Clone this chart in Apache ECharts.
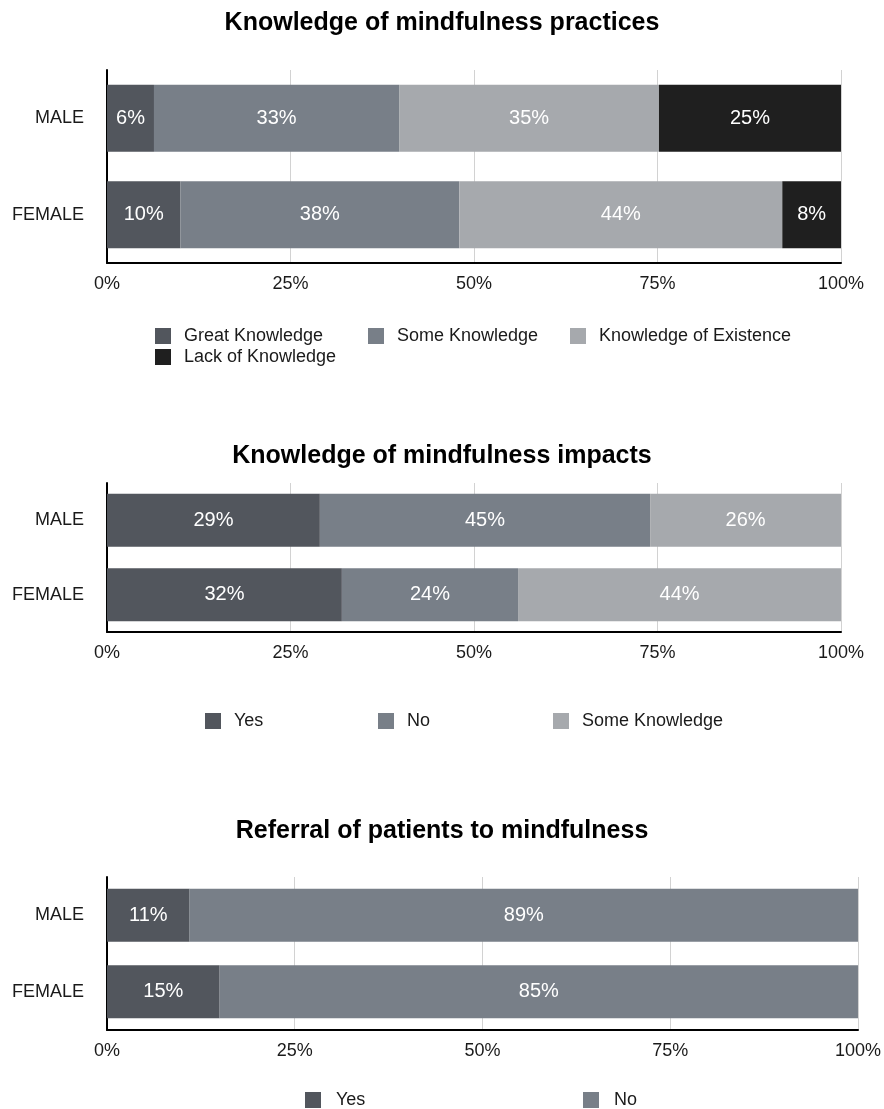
<!DOCTYPE html>
<html>
<head>
<meta charset="utf-8">
<script src="https://cdn.jsdelivr.net/npm/echarts@6/dist/echarts.min.js"></script>
<style>
  html, body { margin: 0; padding: 0; background: #fff; }
  .panel { position: absolute; left: 0; width: 884px; }
</style>
</head>
<body>
<div id="practices" class="panel" style="top:0;height:400px"></div>
<div id="impacts" class="panel" style="top:420px;height:340px"></div>
<div id="referral" class="panel" style="top:790px;height:319px"></div>
<script>
// Respondent groups (top to bottom)
const genders = ['MALE', 'FEMALE'];

// Knowledge of mindfulness practices, % of respondents [MALE, FEMALE]
const practiceNames = ['Great Knowledge', 'Some Knowledge', 'Knowledge of Existence', 'Lack of Knowledge'];
const practiceGreat = [6.4, 10];
const practiceSome = [33.4, 38];
const practiceExistence = [35.4, 44];
const practiceLack = [24.8, 8];

// Knowledge of mindfulness impacts, % of respondents [MALE, FEMALE]
const impactNames = ['Yes', 'No', 'Some Knowledge'];
const impactYes = [29, 32];
const impactNo = [45, 24];
const impactSome = [26, 44];

// Referral of patients to mindfulness, % of respondents [MALE, FEMALE]
const referralNames = ['Yes', 'No'];
const referralYes = [11, 15];
const referralNo = [89, 85];

// Percentage scale on the value axis
const scaleMin = 0;
const scaleMax = 100;
const scaleStep = 25;

const FONT = '"Liberation Sans", Arial, Helvetica, sans-serif';
const SHADES = ['#52565d', '#787f88', '#a6a9ad', '#1f1f1f'];

function buildChart(el, cfg) {
  const chart = echarts.init(document.getElementById(el), null, { renderer: 'canvas' });
  const legends = cfg.names.map((name, i) => ({
    data: [name],
    left: cfg.legendPos[i][0],
    top: cfg.legendPos[i][1],
    icon: 'rect',
    itemWidth: 16,
    itemHeight: 16,
    padding: 0,
    selectedMode: false,
    textStyle: { fontFamily: FONT, fontSize: 18, color: '#1a1a1a', padding: [0, 0, 0, cfg.textGap] }
  }));
  chart.setOption({
    animation: false,
    textStyle: { fontFamily: FONT },
    title: {
      text: cfg.title,
      left: 'center',
      top: cfg.titleTop,
      textStyle: { fontFamily: FONT, fontSize: 25, fontWeight: 'bold', color: '#000' }
    },
    legend: legends,
    grid: { left: 107, right: cfg.gridRight, top: cfg.gridTop, height: cfg.gridHeight, containLabel: false },
    xAxis: {
      type: 'value',
      min: scaleMin,
      max: scaleMax,
      interval: scaleStep,
      axisLine: { show: true, lineStyle: { color: '#000', width: 2 } },
      axisTick: { show: false },
      axisLabel: { formatter: '{value}%', fontFamily: FONT, fontSize: 18, color: '#1a1a1a', margin: 12 },
      splitLine: { show: true, lineStyle: { color: '#d2d2d2', width: 1 } }
    },
    yAxis: {
      type: 'category',
      inverse: true,
      data: genders,
      axisLine: { show: true, lineStyle: { color: '#000', width: 2 } },
      axisTick: { show: false },
      axisLabel: { fontFamily: FONT, fontSize: 18, color: '#1a1a1a', margin: 23 },
      splitLine: { show: false }
    },
    series: cfg.values.map((vals, i) => ({
      name: cfg.names[i],
      type: 'bar',
      stack: 'share',
      barWidth: cfg.barWidth,
      data: vals,
      itemStyle: { color: cfg.colors[i] },
      label: {
        show: true,
        position: 'inside',
        formatter: p => Math.round(p.value) + '%',
        fontFamily: FONT,
        fontSize: 20,
        color: '#fff'
      },
      emphasis: { disabled: true }
    }))
  });
  return chart;
}

buildChart('practices', {
  title: 'Knowledge of mindfulness practices',
  titleTop: 6,
  names: practiceNames,
  values: [practiceGreat, practiceSome, practiceExistence, practiceLack],
  colors: SHADES,
  gridRight: 43,
  gridTop: 70,
  gridHeight: 193,
  barWidth: 67,
  textGap: 8,
  legendPos: [[155, 327], [368, 327], [570, 327], [155, 348]]
});

buildChart('impacts', {
  title: 'Knowledge of mindfulness impacts',
  titleTop: 19,
  names: impactNames,
  values: [impactYes, impactNo, impactSome],
  colors: SHADES.slice(0, 3),
  gridRight: 43,
  gridTop: 63,
  gridHeight: 149,
  barWidth: 53,
  textGap: 8,
  legendPos: [[205, 292], [378, 292], [553, 292]]
});

buildChart('referral', {
  title: 'Referral of patients to mindfulness',
  titleTop: 24,
  names: referralNames,
  values: [referralYes, referralNo],
  colors: SHADES.slice(0, 2),
  gridRight: 26,
  gridTop: 87,
  gridHeight: 153,
  barWidth: 53,
  textGap: 10,
  legendPos: [[305, 301], [583, 301]]
});
</script>
</body>
</html>
